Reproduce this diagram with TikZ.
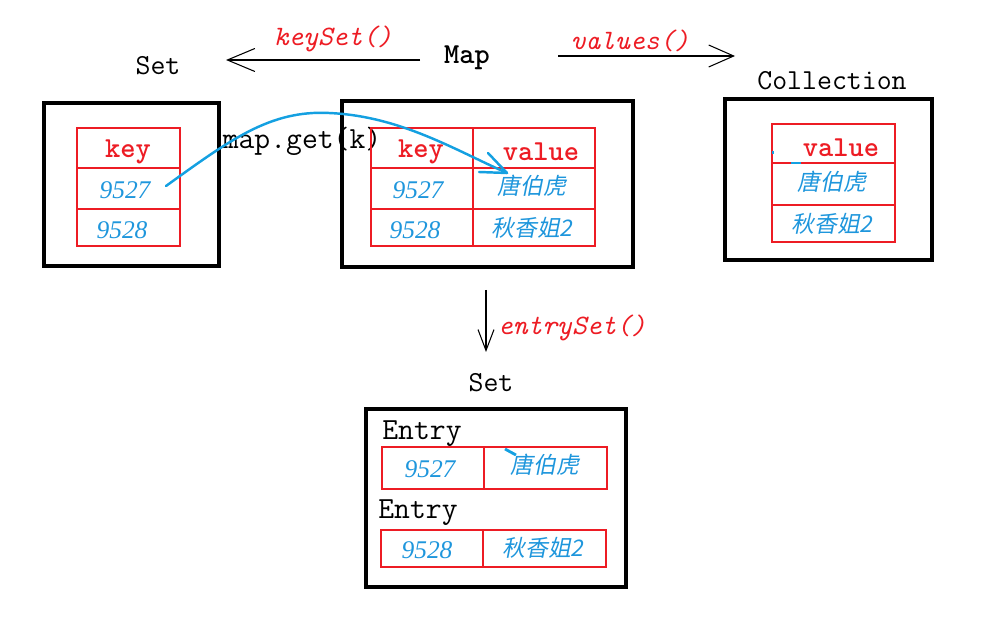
\documentclass[tikz,border=0pt]{standalone}
\usepackage{fontspec}
\newfontfamily\cjk[FakeSlant=0.2]{Noto Sans CJK SC}
\newfontfamily\numfont{Liberation Serif}
\usetikzlibrary{arrows.meta}
\definecolor{tred}{RGB}{237,28,36}
\definecolor{tblue}{RGB}{30,150,220}
\definecolor{cblue}{RGB}{20,160,225}
\newcommand\pxu{0.02cm}
\begin{document}
\begin{tikzpicture}[x=0.02cm,y=-0.02cm,
  lbl/.style={font=\fontsize{16.5}{18}\selectfont\ttfamily,text=black,inner sep=0},
  mth/.style={font=\fontsize{16}{18}\selectfont\ttfamily\itshape,text=tred,inner sep=0},
  hdr/.style={font=\fontsize{16.5}{18}\selectfont\ttfamily\bfseries,text=tred,inner sep=0},
  num/.style={font=\fontsize{14.5}{16}\selectfont\numfont\itshape,text=tblue,inner sep=0},
  zh/.style={font=\fontsize{13}{15}\selectfont\cjk,text=tblue,inner sep=0},
  box/.style={draw=black,line width=2pt,inner sep=0},
  cell/.style={draw=tred,line width=0.6pt,inner sep=0},
  thin/.style={draw=black,line width=0.6pt},
  getline/.style={draw=cblue,line width=1.4pt,line cap=round,line join=round},
]
\path[use as bounding box] (0,0) rectangle (992,631);

% labels
\node[lbl] (setA) at (158,66) {Set};
\node[lbl,font=\fontsize{16.5}{18}\selectfont\ttfamily\bfseries] (map) at (467,58) {Map};
\node[lbl] (coll) at (832,81) {Collection};
\node[mth] (ks) at (333,39) {keySet()};
\node[mth] (vs) at (630,41) {values()};
\node[mth] (es) at (572,328) {entrySet()};
\node[lbl] (setB) at (491,383) {Set};
\node[lbl,font=\fontsize{17.5}{19}\selectfont\ttfamily] (get) at (302,141) {map.get(k)};

% arrows
\coordinate (ka) at (420,60); \coordinate (kb) at (226,60);
\draw[thin,-{Straight Barb[length=0.55cm,width=0.46cm,line width=0.6pt]}] (ka) -- (kb);
\coordinate (va) at (558,56); \coordinate (vb) at (735,56);
\draw[thin,-{Straight Barb[length=0.5cm,width=0.44cm,line width=0.6pt]}] (va) -- (vb);
\coordinate (ea) at (486,290); \coordinate (eb) at (486,352);
\draw[thin,-{Straight Barb[length=0.42cm,width=0.32cm,line width=0.6pt]}] (ea) -- (eb);

% left Set box
\node[box,minimum width=175*\pxu,minimum height=163*\pxu] (bset) at (131.5,184.5) {};
\node[cell,minimum width=103*\pxu,minimum height=40*\pxu] (lk) at (128.5,148) {};
\node[cell,minimum width=103*\pxu,minimum height=41*\pxu] (l1) at (128.5,188.5) {};
\node[cell,minimum width=103*\pxu,minimum height=37*\pxu] (l2) at (128.5,227.5) {};
\node[hdr] (lkt) at (128,152) {key};
\node[num] (l1t) at (125,190) {9527};
\node[num] (l2t) at (122,230) {9528};

% Map box
\node[box,minimum width=291*\pxu,minimum height=166*\pxu] (bmap) at (487.5,184) {};
\node[cell,minimum width=102*\pxu,minimum height=40*\pxu] (mk) at (422,148) {};
\node[cell,minimum width=122*\pxu,minimum height=40*\pxu] (mv) at (534,148) {};
\node[cell,minimum width=102*\pxu,minimum height=41*\pxu] (m1k) at (422,188.5) {};
\node[cell,minimum width=122*\pxu,minimum height=41*\pxu] (m1v) at (534,188.5) {};
\node[cell,minimum width=102*\pxu,minimum height=37*\pxu] (m2k) at (422,227.5) {};
\node[cell,minimum width=122*\pxu,minimum height=37*\pxu] (m2v) at (534,227.5) {};
\node[hdr] (mkt) at (421,152) {key};
\node[hdr] (mvt) at (541,152) {value};
\node[num] (m1kt) at (418,190) {9527};
\node[zh] (m1vt) at (532,186) {唐伯虎};
\node[num] (m2kt) at (415,230) {9528};
\node[zh] (m2vt) at (532,228) {秋香姐2};

% Collection box
\node[box,minimum width=207*\pxu,minimum height=161*\pxu] (bcol) at (828.5,179.5) {};
\node[cell,minimum width=123*\pxu,minimum height=39*\pxu] (cv) at (833.5,143.5) {};
\node[cell,minimum width=123*\pxu,minimum height=42*\pxu] (c1) at (833.5,184) {};
\node[cell,minimum width=123*\pxu,minimum height=37*\pxu] (c2) at (833.5,223.5) {};
\node[hdr] (cvt) at (841,148) {value};
\node[zh] (c1t) at (832,182) {唐伯虎};
\node[zh] (c2t) at (832,224) {秋香姐2};

% Entry Set box
\node[box,minimum width=260*\pxu,minimum height=178*\pxu] (bent) at (496,498) {};
\node[lbl,font=\fontsize{17.5}{19}\selectfont\ttfamily] (en1) at (422,434) {Entry};
\node[lbl,font=\fontsize{17.5}{19}\selectfont\ttfamily] (en2) at (418,513) {Entry};
\node[cell,minimum width=102*\pxu,minimum height=42*\pxu] (e1k) at (433,468) {};
\node[cell,minimum width=123*\pxu,minimum height=42*\pxu] (e1v) at (545.5,468) {};
\node[cell,minimum width=102*\pxu,minimum height=37*\pxu] (e2k) at (432,548.5) {};
\node[cell,minimum width=123*\pxu,minimum height=37*\pxu] (e2v) at (544.5,548.5) {};
\node[num] (e1kt) at (430,469) {9527};
\node[zh] (e1vt) at (545,465) {唐伯虎};
\node[num] (e2kt) at (427,550) {9528};
\node[zh] (e2vt) at (543,548) {秋香姐2};

% map.get(k) curve
\coordinate (g0) at (166,186); \coordinate (gtop) at (329,113); \coordinate (g1) at (507,173);
\coordinate (gb1) at (488,153); \coordinate (gb2) at (479,172);
\draw[getline]
  (g0) .. controls (230,140) and (270,110) .. (gtop) .. controls (400,116) and (455,150) .. (g1);
\draw[getline] (gb1) -- (g1) -- (gb2);

% small blue marks
\draw[cblue,line width=1.4pt] (791,163) -- (801,163);
\draw[cblue,line width=0.8pt] (773,151) -- (773,154);
\draw[cblue,line width=1.6pt] (505,449) -- (516,455);
\end{tikzpicture}
\end{document}
